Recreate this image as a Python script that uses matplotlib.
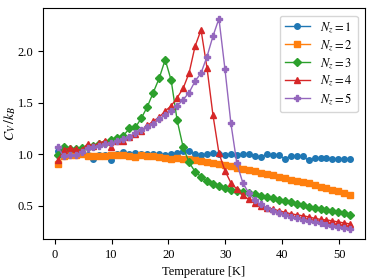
import numpy as np
import matplotlib
matplotlib.use('Agg')
import matplotlib.pyplot as plt

plt.rcParams['font.family'] = ['Liberation Serif', 'DejaVu Serif']
plt.rcParams['mathtext.fontset'] = 'stix'
plt.rcParams['font.size'] = 9

# temperature grid of the simulation
temperature = np.linspace(0.5, 52, 50)

cv_nz1 = [1.03, 1.01, 1.00, 1.00, 1.00, 0.99, 0.95, 0.99, 0.99, 0.94,
          1.00, 1.02, 1.00, 1.01, 1.00, 1.00, 1.00, 1.00, 0.99, 1.00,
          1.01, 1.03, 1.03, 1.00, 0.99, 1.00, 1.01, 1.00, 0.99, 1.00,
          0.99, 1.00, 1.00, 0.98, 0.97, 1.00, 0.99, 0.99, 0.955, 0.98,
          0.98, 0.98, 0.94, 0.96, 0.96, 0.96, 0.955, 0.95, 0.95, 0.95]
cv_nz2 = [0.90, 0.98, 0.99, 0.99, 1.00, 0.98, 0.98, 0.98, 0.98, 0.99,
          0.99, 0.99, 0.98, 0.97, 0.99, 0.98, 0.98, 0.97, 0.96, 0.95,
          0.96, 0.955, 0.95, 0.94, 0.93, 0.92, 0.91, 0.90, 0.89, 0.88,
          0.87, 0.86, 0.85, 0.835, 0.82, 0.81, 0.80, 0.78, 0.765, 0.75,
          0.74, 0.73, 0.715, 0.70, 0.685, 0.67, 0.655, 0.64, 0.625, 0.605]
cv_nz3 = [0.99, 1.07, 1.05, 1.05, 1.06, 1.07, 1.08, 1.10, 1.11, 1.14,
          1.16, 1.18, 1.25, 1.26, 1.35, 1.46, 1.60, 1.74, 1.92, 1.72,
          1.33, 1.07, 0.92, 0.83, 0.78, 0.74, 0.71, 0.69, 0.67, 0.65,
          0.64, 0.63, 0.62, 0.61, 0.595, 0.585, 0.57, 0.555, 0.54, 0.53,
          0.515, 0.505, 0.49, 0.48, 0.47, 0.455, 0.445, 0.435, 0.425, 0.41]
cv_nz4 = [0.94, 1.04, 1.06, 1.05, 1.04, 1.10, 1.08, 1.11, 1.13, 1.07,
          1.13, 1.13, 1.17, 1.20, 1.23, 1.28, 1.32, 1.36, 1.42, 1.47,
          1.55, 1.64, 1.79, 2.05, 2.21, 1.84, 1.38, 1.01, 0.84, 0.72,
          0.66, 0.60, 0.56, 0.525, 0.50, 0.48, 0.465, 0.45, 0.435, 0.42,
          0.41, 0.40, 0.39, 0.375, 0.365, 0.36, 0.35, 0.34, 0.33, 0.32]
cv_nz5 = [1.07, 0.98, 0.99, 0.99, 1.02, 1.06, 1.07, 1.08, 1.10, 1.11,
          1.13, 1.15, 1.17, 1.21, 1.24, 1.26, 1.29, 1.34, 1.38, 1.42,
          1.47, 1.53, 1.60, 1.71, 1.79, 1.95, 2.15, 2.32, 1.83, 1.30,
          0.91, 0.72, 0.62, 0.55, 0.51, 0.48, 0.45, 0.43, 0.405, 0.39,
          0.375, 0.36, 0.35, 0.335, 0.325, 0.315, 0.305, 0.295, 0.285, 0.275]

series = [cv_nz1, cv_nz2, cv_nz3, cv_nz4, cv_nz5]
markers = ['o', 's', 'D', '^', 'P']

fig, ax = plt.subplots(figsize=(3.74, 2.8), dpi=100)
fig.subplots_adjust(left=0.115, right=0.976, top=0.971, bottom=0.146)

for i, cv in enumerate(series):
    ax.plot(temperature, cv, marker=markers[i], markersize=4 if markers[i] != 'D' else 3.6,
            linewidth=1.0, label=f'$N_z = {i + 1}$')

ax.set_xlabel('Temperature [K]')
ax.set_ylabel('$C_V\\,/k_B$', fontsize=10)
ax.yaxis.set_label_coords(-0.077, 0.5)
ax.set_xticks([0, 10, 20, 30, 40, 50])
ax.set_yticks([0.5, 1.0, 1.5, 2.0])
ax.legend(loc='upper right', fontsize=9, handlelength=2.0, labelspacing=0.25,
          borderaxespad=0.6)

fig.savefig('out.png', dpi=100)
